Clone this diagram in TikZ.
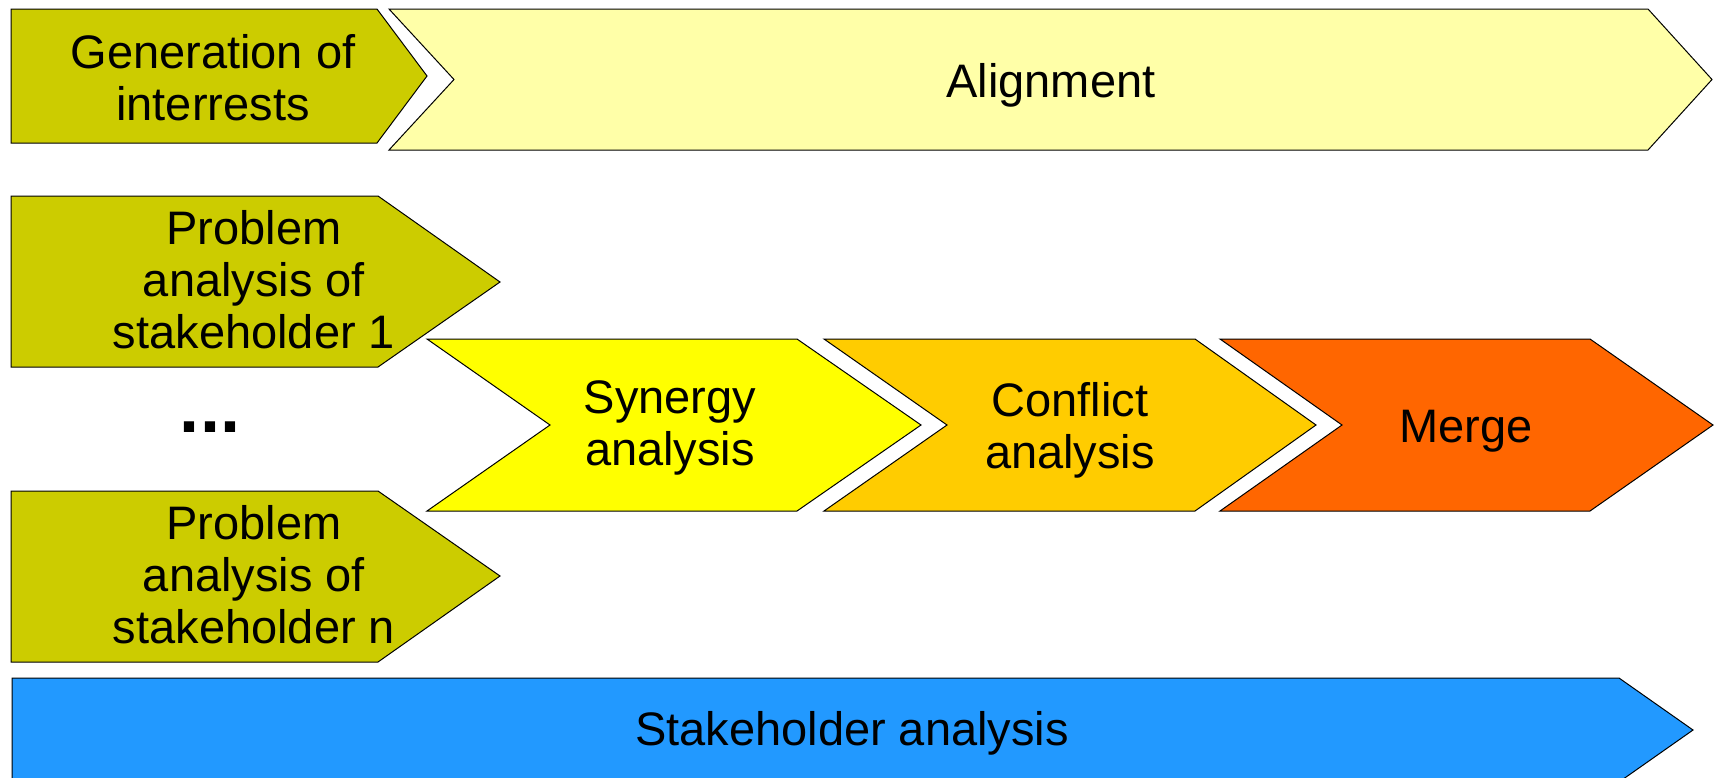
\documentclass[tikz,border=0pt]{standalone}
\usepackage{fontspec}
\setmainfont{Liberation Sans}
\definecolor{olive}{HTML}{CCCC00}
\definecolor{paley}{HTML}{FFFFA8}
\definecolor{syny}{HTML}{FFFF00}
\definecolor{confo}{HTML}{FFCC00}
\definecolor{mergeo}{HTML}{FF6600}
\definecolor{stkb}{HTML}{2299FF}
\newcommand{\mlines}[1]{\begin{tabular}[b]{@{}c@{}}#1\end{tabular}}
\begin{document}
\begin{tikzpicture}[x=1pt,y=-1pt,
  shapebox/.style={draw=black, line width=1pt, line join=miter},
  lbl/.style={font=\fontsize{47}{52}\selectfont, inner sep=0pt, anchor=base}]
\useasboundingbox (0,0) rectangle (1715,777);
\clip (0,0) rectangle (1715,777);
% shapes
\draw[shapebox, fill=olive] (11,9) -- (377,9) -- (427,76) -- (377,143) -- (11,143) -- cycle;
\draw[shapebox, fill=paley] (389,9) -- (1648,9) -- (1712,79.5) -- (1648,150) -- (389,150) -- (454,79.5) -- cycle;
\draw[shapebox, fill=olive] (11,196) -- (378,196) -- (500,282) -- (378,367) -- (11,367) -- cycle;
\draw[shapebox, fill=olive] (11,491) -- (378,491) -- (500,576) -- (378,662) -- (11,662) -- cycle;
\draw[shapebox, fill=syny] (427,339) -- (797,339) -- (921,425) -- (797,511) -- (427,511) -- (550,425) -- cycle;
\draw[shapebox, fill=confo] (824,339) -- (1195,339) -- (1316,425) -- (1195,511) -- (824,511) -- (947,425) -- cycle;
\draw[shapebox, fill=mergeo] (1220,339) -- (1590,339) -- (1713,425) -- (1590,511) -- (1220,511) -- (1342,425) -- cycle;
\draw[shapebox, fill=stkb] (12,678) -- (1619,678) -- (1693,730) -- (1619,782) -- (12,782) -- cycle;
% labels
\node[lbl] (gen) at (213,120) {\mlines{Generation of\\interrests}};
\node[lbl] (align) at (1051,97) {Alignment};
\node[lbl] (p1) at (254,348) {\mlines{Problem\\analysis of\\stakeholder 1}};
\node[lbl, font=\fontsize{72}{80}\selectfont\bfseries] (dots) at (210,432) {...};
\node[lbl] (pn) at (254,643) {\mlines{Problem\\analysis of\\stakeholder n}};
\node[lbl] (syn) at (670,465) {\mlines{Synergy\\analysis}};
\node[lbl] (con) at (1070,468) {\mlines{Conflict\\analysis}};
\node[lbl] (mer) at (1466,442) {Merge};
\node[lbl] (stk) at (852,745) {Stakeholder analysis};
\end{tikzpicture}
\end{document}
